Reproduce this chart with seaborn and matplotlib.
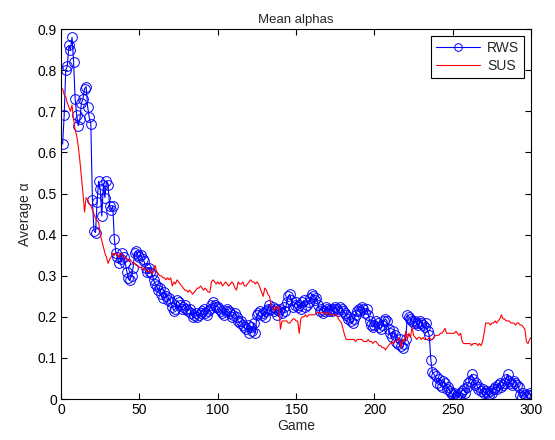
import numpy as np
import pandas as pd
import matplotlib
matplotlib.use("Agg")
import matplotlib.pyplot as plt
import seaborn as sns

games = list(range(1, 301))

rws = [
    0.62, 0.69, 0.80, 0.81, 0.86, 0.85, 0.88, 0.82, 0.73, 0.69,
    0.665, 0.68, 0.72, 0.73, 0.755, 0.76, 0.71, 0.685, 0.67, 0.485,
    0.41, 0.405, 0.48, 0.53, 0.51, 0.445, 0.52, 0.49, 0.53, 0.52,
    0.47, 0.46, 0.47, 0.39, 0.355, 0.345, 0.33, 0.34, 0.355, 0.345,
    0.33, 0.31, 0.295, 0.29, 0.30, 0.32, 0.355, 0.36, 0.35, 0.345,
    0.35, 0.34, 0.335, 0.32, 0.31, 0.32, 0.31, 0.305, 0.29, 0.28,
    0.275, 0.265, 0.27, 0.255, 0.245, 0.26, 0.25, 0.24, 0.245, 0.235,
    0.225, 0.215, 0.22, 0.24, 0.235, 0.23, 0.22, 0.225, 0.23, 0.22,
    0.215, 0.22, 0.21, 0.20, 0.205, 0.21, 0.20, 0.205, 0.21, 0.215,
    0.22, 0.21, 0.205, 0.215, 0.22, 0.23, 0.235, 0.23, 0.225, 0.225,
    0.22, 0.215, 0.21, 0.205, 0.215, 0.22, 0.215, 0.21, 0.20, 0.205,
    0.21, 0.20, 0.19, 0.185, 0.19, 0.18, 0.175, 0.17, 0.18, 0.16,
    0.175, 0.165, 0.185, 0.16, 0.205, 0.21, 0.215, 0.205, 0.21, 0.20,
    0.215, 0.22, 0.23, 0.22, 0.225, 0.215, 0.22, 0.205, 0.215, 0.22,
    0.21, 0.225, 0.215, 0.235, 0.25, 0.255, 0.24, 0.225, 0.23, 0.235,
    0.225, 0.23, 0.22, 0.235, 0.24, 0.225, 0.23, 0.235, 0.245, 0.255,
    0.25, 0.24, 0.245, 0.23, 0.215, 0.22, 0.21, 0.215, 0.225, 0.22,
    0.215, 0.22, 0.215, 0.22, 0.225, 0.22, 0.215, 0.225, 0.22, 0.215,
    0.21, 0.205, 0.195, 0.20, 0.19, 0.185, 0.195, 0.205, 0.215, 0.22,
    0.215, 0.225, 0.22, 0.21, 0.22, 0.205, 0.19, 0.18, 0.175, 0.18,
    0.19, 0.185, 0.175, 0.17, 0.18, 0.19, 0.195, 0.19, 0.17, 0.16,
    0.15, 0.165, 0.155, 0.14, 0.135, 0.145, 0.13, 0.125, 0.135, 0.145,
    0.205, 0.20, 0.195, 0.19, 0.185, 0.19, 0.185, 0.18, 0.19, 0.185,
    0.18, 0.175, 0.185, 0.165, 0.155, 0.095, 0.065, 0.06, 0.055, 0.04,
    0.05, 0.035, 0.03, 0.045, 0.04, 0.025, 0.03, 0.02, 0.015, 0.01,
    0.015, 0.005, 0.01, 0.005, 0.015, 0.02, 0.025, 0.015, 0.03, 0.04,
    0.045, 0.06, 0.05, 0.035, 0.04, 0.025, 0.03, 0.02, 0.025, 0.015,
    0.02, 0.015, 0.01, 0.02, 0.015, 0.025, 0.03, 0.025, 0.035, 0.04,
    0.03, 0.035, 0.04, 0.05, 0.06, 0.045, 0.04, 0.035, 0.045, 0.04,
    0.035, 0.03, 0.01, 0.005, 0.015, 0.01, 0.005, 0.01, 0.015, 0.01,
]

sus = [
    0.755, 0.74, 0.735, 0.72, 0.71, 0.70, 0.715, 0.68, 0.655, 0.64,
    0.615, 0.58, 0.54, 0.50, 0.455, 0.49, 0.485, 0.475, 0.47, 0.46,
    0.45, 0.44, 0.435, 0.43, 0.40, 0.385, 0.37, 0.355, 0.345, 0.33,
    0.34, 0.345, 0.355, 0.35, 0.355, 0.35, 0.345, 0.355, 0.35, 0.345,
    0.345, 0.34, 0.335, 0.34, 0.335, 0.33, 0.33, 0.325, 0.325, 0.32,
    0.32, 0.315, 0.32, 0.315, 0.31, 0.31, 0.315, 0.305, 0.31, 0.325,
    0.31, 0.305, 0.30, 0.30, 0.295, 0.295, 0.29, 0.295, 0.29, 0.295,
    0.275, 0.285, 0.28, 0.29, 0.285, 0.28, 0.275, 0.27, 0.265, 0.265,
    0.26, 0.265, 0.26, 0.255, 0.26, 0.265, 0.27, 0.27, 0.275, 0.27,
    0.265, 0.27, 0.265, 0.26, 0.26, 0.285, 0.29, 0.285, 0.28, 0.285,
    0.28, 0.285, 0.275, 0.28, 0.285, 0.28, 0.275, 0.28, 0.285, 0.28,
    0.27, 0.265, 0.285, 0.28, 0.28, 0.285, 0.275, 0.275, 0.28, 0.285,
    0.29, 0.285, 0.285, 0.28, 0.285, 0.28, 0.27, 0.26, 0.25, 0.27,
    0.265, 0.255, 0.25, 0.23, 0.22, 0.215, 0.225, 0.22, 0.225, 0.17,
    0.19, 0.19, 0.19, 0.19, 0.185, 0.185, 0.19, 0.195, 0.195, 0.19,
    0.19, 0.16, 0.195, 0.20, 0.20, 0.205, 0.20, 0.205, 0.205, 0.205,
    0.205, 0.205, 0.21, 0.21, 0.21, 0.21, 0.21, 0.21, 0.205, 0.21,
    0.21, 0.205, 0.205, 0.205, 0.205, 0.205, 0.195, 0.19, 0.185, 0.17,
    0.155, 0.145, 0.145, 0.145, 0.145, 0.145, 0.145, 0.14, 0.145, 0.145,
    0.145, 0.145, 0.14, 0.14, 0.14, 0.145, 0.14, 0.14, 0.135, 0.14,
    0.14, 0.135, 0.13, 0.13, 0.125, 0.125, 0.12, 0.125, 0.13, 0.135,
    0.14, 0.135, 0.14, 0.14, 0.145, 0.15, 0.125, 0.145, 0.14, 0.165,
    0.145, 0.16, 0.15, 0.175, 0.155, 0.15, 0.145, 0.15, 0.15, 0.145,
    0.15, 0.145, 0.145, 0.145, 0.15, 0.145, 0.145, 0.15, 0.155, 0.155,
    0.155, 0.16, 0.16, 0.165, 0.172, 0.16, 0.16, 0.16, 0.16, 0.16,
    0.16, 0.165, 0.16, 0.155, 0.16, 0.14, 0.135, 0.135, 0.135, 0.135,
    0.135, 0.13, 0.135, 0.135, 0.135, 0.13, 0.135, 0.13, 0.14, 0.16,
    0.185, 0.185, 0.185, 0.18, 0.185, 0.185, 0.19, 0.185, 0.19, 0.195,
    0.205, 0.195, 0.195, 0.19, 0.19, 0.19, 0.185, 0.185, 0.185, 0.18,
    0.185, 0.185, 0.18, 0.18, 0.175, 0.17, 0.14, 0.135, 0.145, 0.15,
]

df = pd.DataFrame({"Game": games, "RWS": rws, "SUS": sus})

sns.set_style("ticks")
plt.rcParams["font.family"] = ["Liberation Sans", "DejaVu Sans"]
plt.rcParams["font.size"] = 10

FS = 10

fig = plt.figure(figsize=(5.55, 4.4), dpi=100)
ax = fig.add_axes([0.110, 0.093, 0.847, 0.841])

sns.lineplot(data=df, x="Game", y="RWS", ax=ax, color="blue", linewidth=0.8,
             marker="o", markersize=7, markerfacecolor="none",
             markeredgecolor="blue", markeredgewidth=0.7, label="RWS")
sns.lineplot(data=df, x="Game", y="SUS", ax=ax, color="red", linewidth=0.8,
             label="SUS")

ax.set_xlim(0, 300)
ax.set_ylim(0, 0.9)
ax.set_xticks(np.arange(0, 301, 50))
ax.set_yticks(np.arange(0, 0.91, 0.1))
ax.set_yticklabels(["0", "0.1", "0.2", "0.3", "0.4", "0.5", "0.6", "0.7", "0.8", "0.9"])
ax.tick_params(direction="in", top=True, right=True, length=4, width=0.8,
               labelsize=FS, colors="black", pad=3)
for s in ax.spines.values():
    s.set_visible(True)
    s.set_linewidth(0.8)
    s.set_color("black")

ax.set_xlabel("Game", fontsize=FS, labelpad=1)
ax.set_ylabel("Average α", fontsize=FS, labelpad=4)
ax.set_title("Mean alphas", fontsize=9.5, pad=4)

leg = ax.legend(loc="upper right", handlelength=3.2, fontsize=FS,
                fancybox=False, framealpha=1, edgecolor="black",
                borderaxespad=0.5, borderpad=0.35, labelspacing=0.3,
                handletextpad=0.5)
leg.get_frame().set_linewidth(0.8)
leg.legend_handles[0].set_markersize(5.5)

fig.savefig("out.png", dpi=100)
